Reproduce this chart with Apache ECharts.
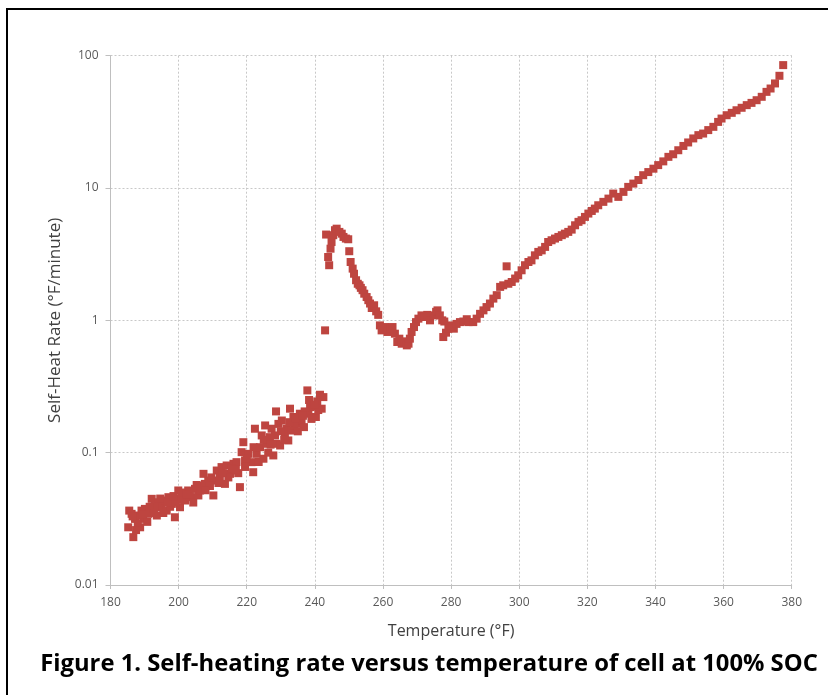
<!DOCTYPE html>
<html>
<head>
<meta charset="utf-8">
<script src="https://cdn.jsdelivr.net/npm/echarts@6/dist/echarts.min.js"></script>
<style>
html,body{margin:0;padding:0;background:#fff;}
#chart{width:828px;height:695px;}
</style>
</head>
<body>
<div id="chart"></div>
<script>
// Phase 1: slow self-heating (186–243 °F)
const earlyTempF = [185.5,185.2,186.7,186.2,187.2,188.2,189.1,188.7,190.1,189.6,191.1,192.1,192.6,193.6,194.0,195.0,196.0,196.5,197.0,198.0,198.9,199.4,199.9,200.4,201.4,201.9,202.8,203.8,204.8,205.8,206.3,207.3,207.7,208.7,210.2,210.7,211.2,212.1,212.6,213.6,214.1,215.1,216.1,216.5,217.0,218.0,218.5,219.0,219.5,220.5,221.9,221.4,222.4,222.9,223.9,224.9,224.4,225.4,225.8,226.8,227.3,227.8,228.6,228.8,229.8,229.3,230.3,231.2,231.7,232.2,232.7,233.2,233.7,234.6,235.6,236.1,236.8,237.8,238.1,238.6,239.5,240.3,240.7,241.5,242.0,242.5,
  188.0,190.8,193.0,195.5,197.5,199.0,201.0,203.3,204.3,206.8,209.2,211.7,214.6,217.5,215.6,219.5,223.5,226.3,228.3,231.0,233.9,235.0,237.0,239.0,241.0,
  186.5,187.5,189.3,191.5,192.8,194.6,196.8,198.5,200.8,202.3,205.3,207.9,209.6,213.0,216.8,220.0,222.0,225.0,227.0,230.0,232.5,234.2,236.5,238.3,240.0];
const earlyRate = [0.0365,0.0273,0.0230,0.0345,0.0316,0.0335,0.0365,0.0273,0.0376,0.0316,0.0345,0.0448,0.0376,0.0335,0.0422,0.0387,0.0435,0.0365,0.0461,0.0410,0.0325,0.0448,0.0518,0.0387,0.0489,0.0435,0.0518,0.0461,0.0533,0.0475,0.0518,0.0692,0.0581,0.0616,0.0475,0.0616,0.0733,0.0653,0.0778,0.0581,0.0800,0.0692,0.0824,0.0733,0.0848,0.0549,0.1009,0.120,0.0873,0.098,0.0712,0.0848,0.1517,0.098,0.110,0.090,0.135,0.1606,0.1167,0.131,0.1517,0.0953,0.205,0.1167,0.1133,0.165,0.175,0.135,0.1517,0.1237,0.215,0.147,0.186,0.165,0.197,0.175,0.156,0.2955,0.197,0.221,0.223,0.186,0.244,0.274,0.215,0.263,
  0.0290,0.0300,0.0395,0.0350,0.0390,0.0420,0.0440,0.0470,0.0420,0.0560,0.0560,0.0590,0.0650,0.0700,0.0760,0.0780,0.0850,0.1000,0.1350,0.1250,0.1600,0.1450,0.2050,0.1800,0.2100,
  0.0330,0.0260,0.0340,0.0390,0.0350,0.0450,0.0420,0.0470,0.0500,0.0480,0.0570,0.0520,0.0650,0.0700,0.0750,0.0900,0.1100,0.1250,0.1150,0.1450,0.1700,0.1800,0.1900,0.2500,0.2300];

// Phase 2: first exotherm peak and dip (243–285 °F)
const midTempF = [243.0,243.3,243.9,244.2,244.6,244.9,245.4,245.9,246.4,247.2,247.9,248.4,249.1,249.8,250.1,250.5,251.1,251.5,252.1,252.6,253.1,253.5,254.0,254.5,255.2,255.7,256.2,256.7,257.4,258.0,258.6,259.1,259.6,260.6,261.3,262.1,262.8,263.5,264.2,264.8,265.5,266.2,267.0,267.5,267.9,268.4,269.1,269.7,270.4,271.3,272.3,273.0,273.8,274.8,275.6,276.0,276.7,277.4,278.0,277.7,278.5,279.2,280.2,280.8,281.6,282.6,283.6,284.6];
const midRate = [0.84,4.45,3.01,2.61,3.48,3.91,4.40,4.80,4.93,4.66,4.52,4.27,4.15,4.10,3.33,2.76,2.46,2.25,2.01,1.89,1.84,1.76,1.69,1.59,1.50,1.42,1.34,1.24,1.30,1.17,1.10,0.916,0.84,0.89,0.817,0.865,0.89,0.793,0.686,0.727,0.666,0.694,0.647,0.666,0.727,0.817,0.89,0.97,1.03,1.09,1.06,1.10,1.00,1.09,1.16,1.19,1.09,1.00,0.98,0.748,0.807,0.865,0.916,0.865,0.94,0.97,0.98,1.02];

// Phase 3: thermal runaway (285–378 °F)
const lateTempF = [285.1,286.5,287.5,288.5,289.5,290.4,291.4,292.4,293.4,294.4,295.3,296.3,296.8,297.8,298.8,299.7,300.7,301.7,302.7,303.6,304.6,305.6,306.6,307.6,308.5,309.5,310.5,311.5,312.5,313.4,314.4,315.4,316.4,317.4,318.3,319.3,320.3,321.3,322.2,323.2,
  324.7,326.2,327.6,329.1,330.6,332.0,333.5,335.0,336.4,337.9,339.4,340.8,342.3,343.8,345.2,346.7,348.2,349.6,351.1,352.6,354.0,355.5,357.0,358.4,359.4,360.9,362.4,363.8,365.3,366.8,368.2,369.7,371.2,372.6,373.8,375.1,376.4,377.5];
const lateRate = [0.97,0.97,1.03,1.12,1.19,1.26,1.34,1.46,1.55,1.79,1.84,2.56,1.89,1.95,2.07,2.19,2.39,2.61,2.76,2.84,3.10,3.29,3.38,3.59,3.91,4.03,4.15,4.27,4.40,4.52,4.66,4.85,5.23,5.55,5.71,6.05,6.41,6.71,6.99,7.41,
  7.86,8.32,9.08,8.57,9.35,10.2,10.8,11.5,12.5,13.2,14.0,14.9,15.9,17.2,18.0,19.3,20.8,22.1,23.7,25.1,25.8,27.4,29.0,31.6,33.5,35.5,37.0,38.7,40.4,42.3,44.0,46.1,48.9,53.3,56.5,61.7,70.5,84.9];

const xTicks = [180,200,220,240,260,280,300,320,340,360,380];
const yTicks = [0.01,0.1,1,10,100];

const titleText = 'Figure 1. Self-heating rate versus temperature of cell at 100% SOC';
const xName = 'Temperature (°F)';
const yName = 'Self-Heat Rate (°F/minute)';

function pairs(t, r){ return t.map((v,i)=>[v, r[i]]); }
const allData = pairs(earlyTempF, earlyRate).concat(pairs(midTempF, midRate), pairs(lateTempF, lateRate));

const chart = echarts.init(document.getElementById('chart'), null, {renderer:'canvas'});
const labelFont = 'Open Sans, Liberation Sans, sans-serif';
chart.setOption({
  animation:false,
  backgroundColor:'#ffffff',
  grid:{left:110.5, right:36.3, top:55.7, bottom:110},
  xAxis:{
    type:'value', min:xTicks[0], max:xTicks[xTicks.length-1], interval:20,
    name:xName, nameLocation:'middle', nameGap:38,
    nameTextStyle:{fontFamily:labelFont, fontSize:16, color:'#404040'},
    axisLine:{show:true, lineStyle:{color:'#bfbfbf', width:1}},
    axisTick:{show:true, length:4, lineStyle:{color:'#bfbfbf'}},
    axisLabel:{fontFamily:labelFont, fontSize:12, color:'#595959', margin:12},
    splitLine:{show:true, lineStyle:{color:'#c8c8c8', type:[2,2], width:1}}
  },
  yAxis:{
    type:'log', logBase:10, min:yTicks[0], max:yTicks[yTicks.length-1],
    name:yName, nameLocation:'middle', nameGap:46,
    nameTextStyle:{fontFamily:labelFont, fontSize:17, color:'#404040'},
    axisLine:{show:true, lineStyle:{color:'#bfbfbf', width:1}},
    axisTick:{show:true, length:5, lineStyle:{color:'#bfbfbf'}},
    axisLabel:{fontFamily:labelFont, fontSize:12, color:'#595959', margin:12,
      formatter:function(v){ return String(+v.toPrecision(3)); }},
    splitLine:{show:true, lineStyle:{color:'#c8c8c8', type:[2,2], width:1}},
    minorTick:{show:false}
  },
  graphic:[
    {type:'rect', shape:{x:7, y:9, width:840, height:720}, style:{fill:'none', stroke:'#000', lineWidth:2}, silent:true},
    {type:'text', x:429, y:664, style:{text:titleText, fontFamily:'Open Sans, Liberation Sans, sans-serif', fontWeight:'bold', fontSize:23.8, fill:'#000', textAlign:'center', textVerticalAlign:'middle'}}
  ],
  series:[{
    type:'scatter', data:allData, symbol:'rect', symbolSize:8,
    itemStyle:{color:'#be4540', opacity:1}
  }]
});
</script>
</body>
</html>
